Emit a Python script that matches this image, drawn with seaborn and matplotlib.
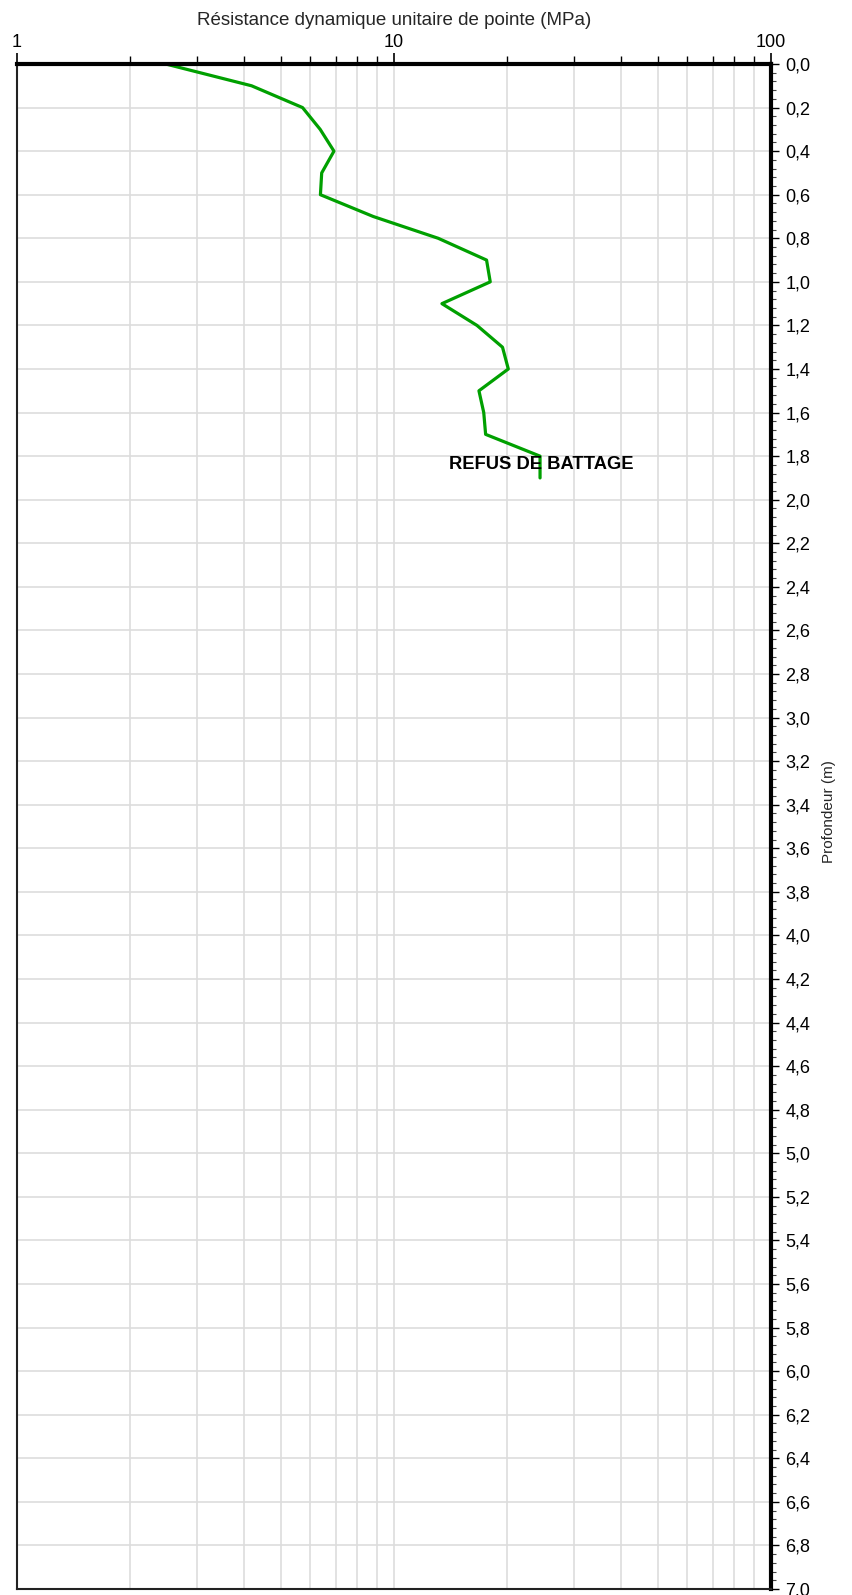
import numpy as np
import pandas as pd
import matplotlib
matplotlib.use("Agg")
import matplotlib.pyplot as plt
from matplotlib.ticker import FixedLocator, FuncFormatter, MultipleLocator, NullFormatter
import seaborn as sns

depth = [0.0, 0.1, 0.2, 0.3, 0.4, 0.5, 0.6, 0.7, 0.8, 0.9, 1.0, 1.1, 1.2, 1.3, 1.4, 1.5, 1.6, 1.7, 1.8, 1.9]
resistance = [2.48, 4.19, 5.72, 6.37, 6.93, 6.43, 6.38, 8.81, 13.1, 17.6, 18.0, 13.4, 16.6, 19.4, 20.1, 16.8, 17.3, 17.5, 24.4, 24.4]
x_ticklabels = ["1", "10", "100"]
annotation = "REFUS DE BATTAGE"

sns.set_theme(style="white")
plt.rcParams['font.family'] = ['Liberation Sans', 'DejaVu Sans']

df = pd.DataFrame({"depth": depth, "qd": resistance})

fig = plt.figure(figsize=(8.52, 15.95), dpi=100)
ax = fig.add_axes([17/852, 1 - 1589/1595, (771-17)/852, (1589-64)/1595])

sns.lineplot(data=df, x="qd", y="depth", orient="y", sort=False, estimator=None,
             color="#00a000", linewidth=2.3, ax=ax, zorder=3)

ax.set_xscale("log")
ax.set_xlim(1, 100)
ax.set_ylim(7.0, 0.0)

xgrid = [m * 10**e for e in range(0, 2) for m in range(1, 10)] + [100]
ax.xaxis.set_major_locator(FixedLocator([1, 10, 100]))
ax.xaxis.set_minor_locator(FixedLocator([m * 10**e for e in range(0, 2) for m in range(2, 10)]))
ax.xaxis.set_major_formatter(FuncFormatter(lambda v, p: x_ticklabels[int(round(np.log10(v)))]))
ax.xaxis.set_minor_formatter(NullFormatter())
ax.xaxis.tick_top()
ax.xaxis.set_label_position("top")
ax.tick_params(axis="x", which="major", direction="out", length=8, width=1.2, colors="black",
               labelsize=13, pad=1.5, top=True, bottom=False)
ax.tick_params(axis="x", which="minor", direction="out", length=6, width=1.0, colors="black",
               top=True, bottom=False)

ax.yaxis.set_major_locator(MultipleLocator(0.2))
ax.yaxis.set_minor_locator(MultipleLocator(0.04))
ax.yaxis.set_major_formatter(FuncFormatter(lambda v, p: f"{v:.1f}".replace(".", ",")))
ax.yaxis.tick_right()
ax.yaxis.set_label_position("right")
ax.tick_params(axis="y", which="major", direction="out", length=6, width=1.0, colors="black",
               labelsize=13, pad=4.5, right=True, left=False)
ax.tick_params(axis="y", which="minor", direction="out", length=3.5, width=0.8, colors="#444444",
               right=True, left=False)

for v in xgrid:
    ax.axvline(v, color="#dddddd", linewidth=1.2, zorder=0)
for d in np.arange(0.2, 7.0, 0.2):
    ax.axhline(d, color="#dddddd", linewidth=1.2, zorder=0)

ax.spines["top"].set_linewidth(3)
ax.spines["right"].set_linewidth(3)
ax.spines["left"].set_linewidth(1.5)
ax.spines["bottom"].set_linewidth(1.5)
for s in ax.spines.values():
    s.set_color("black")
    s.set_zorder(4)
ax.spines["left"].set_color("#222222")
ax.spines["bottom"].set_color("#222222")

ax.set_xlabel("Résistance dynamique unitaire de pointe (MPa)", fontsize=13.5, labelpad=6)
ax.set_ylabel("Profondeur (m)", fontsize=11)
ax.yaxis.set_label_coords(1.068, 0.51)

ax.text(24.6, 1.84, annotation, ha="center", va="center", fontsize=13.2, fontweight="bold",
        color="black", zorder=5)

fig.savefig("out.png", dpi=100)
